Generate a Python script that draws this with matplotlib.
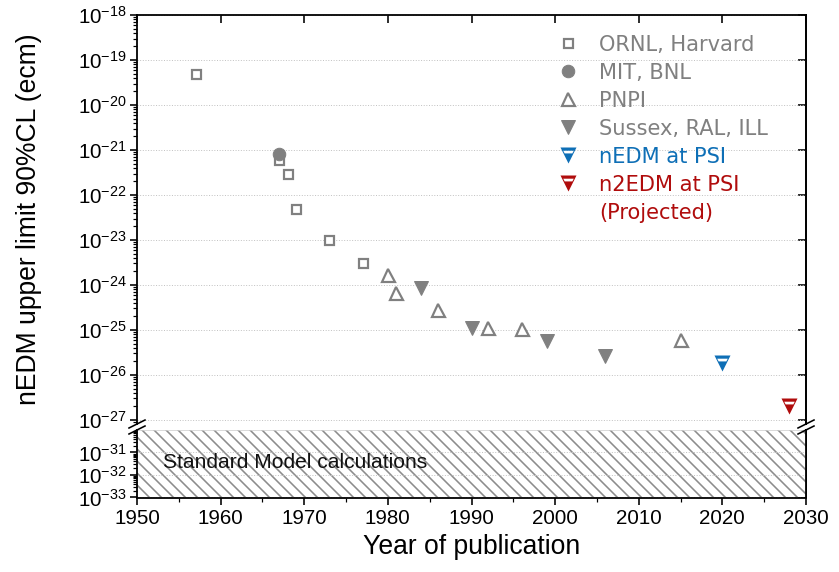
import numpy as np
import matplotlib
matplotlib.use("Agg")
import matplotlib.pyplot as plt
from matplotlib.path import Path
from matplotlib.lines import Line2D
from matplotlib.ticker import LogLocator, NullFormatter, MultipleLocator

plt.rcParams['font.family'] = ['Liberation Sans', 'DejaVu Sans']
plt.rcParams['mathtext.default'] = 'regular'
plt.rcParams['axes.unicode_minus'] = False
plt.rcParams['hatch.linewidth'] = 1.6

# nEDM upper limits (90% CL, e cm) against year of publication
ornl_year = [1957, 1967, 1968, 1969, 1973, 1977]
ornl_limit = [5e-20, 6e-22, 3e-22, 5e-23, 1e-23, 3e-24]

mit_year = [1967]
mit_limit = [8e-22]

pnpi_year = [1980, 1981, 1986, 1992, 1996, 2015]
pnpi_limit = [1.7e-24, 6.5e-25, 2.8e-25, 1.1e-25, 1.05e-25, 6e-26]

sussex_year = [1984, 1990, 1999, 2006]
sussex_limit = [8.5e-25, 1.1e-25, 5.8e-26, 2.7e-26]

psi_year = [2020]
psi_limit = [1.8e-26]

n2edm_year = [2028]
n2edm_limit = [2e-27]

# Standard Model prediction band
sm_low, sm_high = 1e-33, 1e-30

labels = ["ORNL, Harvard", "MIT, BNL", "PNPI", "Sussex, RAL, ILL",
          "nEDM at PSI", "n2EDM at PSI", "(Projected)"]

gray = '#808080'
blue = '#0e6fb6'
red = '#b00c0c'

# down triangle with a white band below the top edge
stripe_tri = Path(
    [(-1, 1), (1, 1), (0, -1), (-1, 1),
     (-0.66, 0.60), (-0.48, 0.26), (0.48, 0.26), (0.66, 0.60), (-0.66, 0.60)],
    [Path.MOVETO, Path.LINETO, Path.LINETO, Path.CLOSEPOLY,
     Path.MOVETO, Path.LINETO, Path.LINETO, Path.LINETO, Path.CLOSEPOLY])

W, H = 839, 572


def px_rect(x0, y0, x1, y1):
    return [x0 / W, 1 - y1 / H, (x1 - x0) / W, (y1 - y0) / H]


fig = plt.figure(figsize=(W / 72, H / 72), dpi=72)
ax = fig.add_axes(px_rect(137, 15, 806, 424))
axl = fig.add_axes(px_rect(137, 430, 806, 497.5), sharex=ax)

h1, = ax.plot(ornl_year, ornl_limit, 's', ms=9, mfc='white', mec=gray,
              mew=2.2, ls='none', label=labels[0])
h2, = ax.plot(mit_year, mit_limit, 'o', ms=12.5, color=gray, ls='none',
              label=labels[1])
h3, = ax.plot(pnpi_year, pnpi_limit, '^', ms=13, mfc='white', mec=gray,
              mew=2.2, ls='none', label=labels[2])
h4, = ax.plot(sussex_year, sussex_limit, 'v', ms=14, color=gray, ls='none',
              label=labels[3])
h5, = ax.plot(psi_year, psi_limit, marker=stripe_tri, ms=16, color=blue,
              mew=0, ls='none', label=labels[4])
h6, = ax.plot(n2edm_year, n2edm_limit, marker=stripe_tri, ms=16, color=red,
              mew=0, ls='none', label=labels[5])
h7 = Line2D([], [], ls='none', marker='none', label=labels[6])

for a in (ax, axl):
    a.set_yscale('log')
    a.set_xlim(1950, 2030)
    a.grid(axis='y', which='major', ls=':', lw=1, color='#c4c4c4')
    a.set_axisbelow(True)
    for s in a.spines.values():
        s.set_linewidth(1.8)
    a.tick_params(axis='y', which='major', direction='out', length=7,
                  width=1.6, labelsize=20.5, pad=3)
    a.tick_params(axis='y', which='minor', direction='out', length=4,
                  width=1.2)
    a.yaxis.set_minor_locator(LogLocator(base=10, subs=np.arange(2, 10), numticks=20))
    a.yaxis.set_minor_formatter(NullFormatter())

ax.set_ylim(10 ** -27.09, 1e-18)
ax.set_yticks([10.0 ** e for e in range(-27, -17)])
ax.spines['bottom'].set_visible(False)
ax.tick_params(axis='x', which='both', bottom=False, labelbottom=False,
               top=True, direction='in', length=8, width=1.6)
ax.tick_params(axis='x', which='minor', top=False)

axl.set_ylim(sm_low, sm_high)
axl.set_yticks([1e-33, 1e-32, 1e-31])
axl.spines['top'].set_visible(False)
axl.xaxis.set_major_locator(MultipleLocator(10))
axl.xaxis.set_minor_locator(MultipleLocator(5))
axl.tick_params(axis='x', which='major', direction='out', length=7,
                width=1.6, labelsize=20.5, pad=5)
axl.tick_params(axis='x', which='minor', direction='out', length=4, width=1.2)

# right-hand ticks, pointing inward
for a in (ax, axl):
    sec = a.secondary_yaxis('right')
    sec.set_yticks(a.get_yticks())
    sec.tick_params(axis='y', which='major', direction='in', length=8,
                    width=1.6, labelright=False)
    sec.tick_params(axis='y', which='minor', length=0)
    sec.spines['right'].set_linewidth(1.8)

axl.axhspan(sm_low, sm_high, facecolor='white', edgecolor='#8c8c8c',
            hatch='\\\\', lw=0, zorder=0.5)
axl.axhline(sm_high, color='#d0d0d0', lw=1.5, zorder=0.6)
axl.text(0.039, 0.52, "Standard Model calculations", transform=axl.transAxes,
         fontsize=21, va='center', ha='left', color='#111111')

ax.set_ylabel("nEDM upper limit 90%CL (ecm)", fontsize=26.5)
ax.yaxis.set_label_coords(-0.142, 0.5)
axl.set_xlabel("Year of publication", fontsize=26.5, labelpad=6)

leg = ax.legend(handles=[h1, h2, h3, h4, h5, h6, h7], loc='upper left',
                bbox_to_anchor=(0.6285, 0.952), frameon=False,
                borderaxespad=0, borderpad=0, handlelength=1.0,
                handletextpad=1.0, labelspacing=0.38,
                prop={'family': 'DejaVu Sans', 'size': 21},
                labelcolor=[gray, gray, gray, gray, blue, red, red])

# axis-break marks on both sides
for xf in (137 / W, 806 / W):
    for yp in (424, 430):
        yf = 1 - yp / H
        fig.add_artist(Line2D([xf - 8 / W, xf + 8 / W], [yf - 4 / H, yf + 4 / H],
                              color='black', lw=1.6, transform=fig.transFigure))

fig.savefig("out.png", dpi=72)
